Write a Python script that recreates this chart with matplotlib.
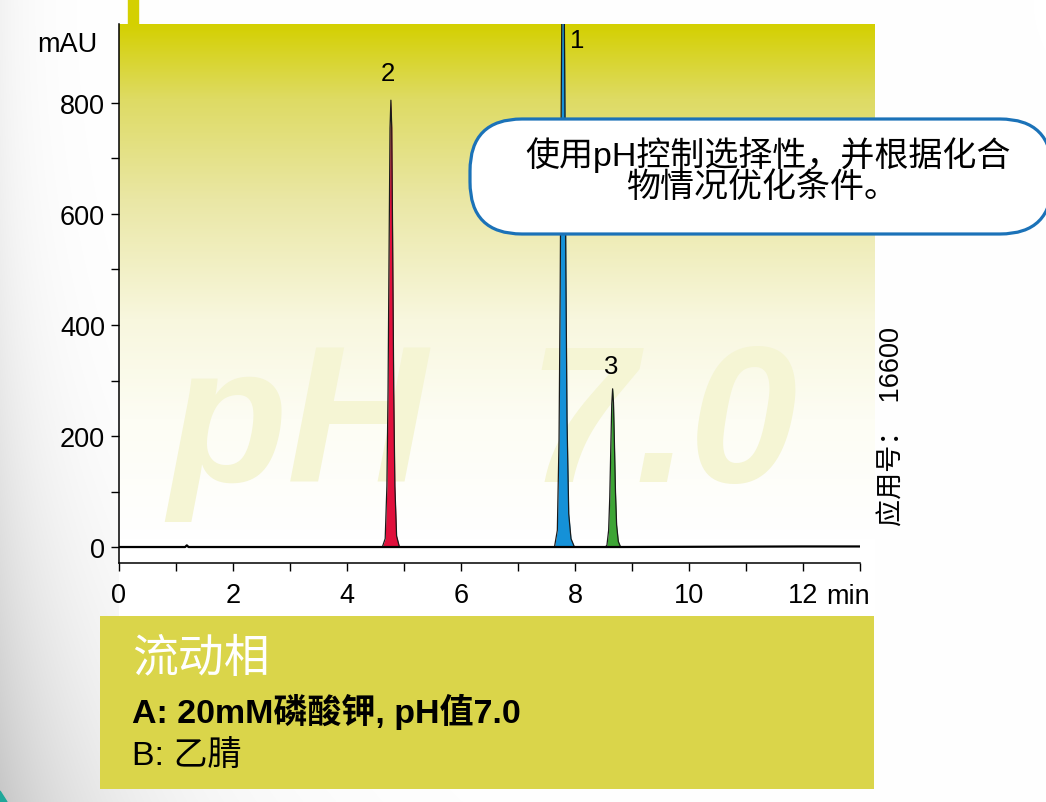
import numpy as np
import matplotlib
matplotlib.use("Agg")
import matplotlib.pyplot as plt
from matplotlib.patches import FancyBboxPatch, Rectangle, Polygon
from matplotlib.transforms import IdentityTransform

# ---------------- data ----------------
peak_names = ["1", "2", "3"]
peak_colors = ["#1591D8", "#E0103C", "#3DA535"]
# peak 1 (clipped at top of chart)
peak1_t = [7.64, 7.69, 7.72, 7.74, 7.76, 7.775, 7.79, 7.805, 7.82, 7.84, 7.86, 7.89, 7.93, 7.99]
peak1_v = [0, 30, 192, 462, 828, 1058, 1150, 1065, 850, 500, 230, 60, 15, 0]
# peak 2
peak2_t = [4.62, 4.67, 4.70, 4.72, 4.74, 4.755, 4.77, 4.785, 4.80, 4.82, 4.84, 4.87, 4.92]
peak2_v = [0, 15, 110, 280, 560, 755, 805, 755, 560, 280, 110, 20, 0]
# peak 3
peak3_t = [8.53, 8.56, 8.59, 8.61, 8.63, 8.645, 8.66, 8.675, 8.69, 8.71, 8.73, 8.76, 8.80]
peak3_v = [0, 3, 30, 90, 188, 257, 285, 260, 195, 100, 40, 10, 0]
# baseline segments between peaks (time, mAU)
base_t = [0.0, 1.16, 1.19, 1.22, 4.62, 4.92, 7.64, 7.99, 8.53, 8.80, 12.0, 13.0]
base_v = [0, 0, 3, 0, 0, 0, 0, 0, 0, 0, 1, 1]

y_ticks = [0, 200, 400, 600, 800]
x_ticks = [0, 2, 4, 6, 8, 10, 12]

callout_lines = ["使用pH控制选择性，并根据化合", "物情况优化条件。"]
app_text = "应用号：  16600"
mobile_title = "流动相"
mobile_a = "A: 20mM磷酸钾, pH值7.0"
mobile_b = "B: 乙腈"
watermark_parts = ["pH", "7.0"]

# ---------------- figure ----------------
W, H = 1046, 803
fig = plt.figure(figsize=(W / 100, H / 100), dpi=100)
fams = ["Liberation Sans", "Noto Sans CJK SC", "DejaVu Sans"]
plt.rcParams["font.family"] = fams


def fx(x):
    return x / W


def fy(y):
    return 1 - y / H


# page background (grey wash on the left)
bgall = fig.add_axes([0, 0, 1, 1], zorder=-10)
bgall.set_axis_off()
yy, xx = np.mgrid[0:H, 0:W]
yn = yy / H
a = 0.05 + 0.17 * yn ** 2
w = 30 + 85 * yn ** 2
g = 1 - a * np.exp(-xx / w)
img = np.dstack([g, g, g])
bgall.imshow(img, extent=[0, W, H, 0], aspect="auto", interpolation="bilinear")
bgall.set_xlim(0, W)
bgall.set_ylim(H, 0)
bgall.add_patch(Polygon([[0, 792], [7, 803], [0, 803]], closed=True, color="#1FA89A"))
# small tab at top
bgall.add_patch(Rectangle((128, 0), 10, 26, color="#D4D000"))

# yellow gradient panel
bg = fig.add_axes([fx(119), fy(617), fx(875 - 119), (617 - 25) / H], zorder=-5)
bg.set_axis_off()
stops_y = np.array([25, 100, 200, 320, 420, 540, 617])
stops_c = np.array([[212, 208, 0], [222, 219, 100], [234, 231, 165], [248, 247, 222],
                    [253, 253, 244], [255, 255, 255], [255, 255, 255]]) / 255.0
ys = np.arange(25, 617)
col = np.stack([np.interp(ys, stops_y, stops_c[:, k]) for k in range(3)], axis=1)
grad = np.repeat(col[:, None, :], 10, axis=1)
bg.imshow(grad, extent=[0, 1, 0, 1], aspect="auto", interpolation="bilinear")
bg.set_xlim(0, 1)
bg.set_ylim(0, 1)
wm_kw = dict(transform=fig.transFigure, fontsize=140, fontweight="bold", fontstyle="italic",
             color=(245 / 255, 245 / 255, 212 / 255), ha="left", va="baseline",
             family=["Liberation Sans", "DejaVu Sans"])
bg.text(fx(168), fy(482), watermark_parts[0], **wm_kw)
bg.text(fx(527), fy(482), watermark_parts[1], **wm_kw)

# main axes
ax = fig.add_axes([fx(119), fy(564), fx(860 - 119), (564 - 25) / H], zorder=0)
ax.patch.set_visible(False)
ax.set_xlim(0, 13)
ax.set_ylim(-28.8, 942.3)
for s in ["top", "right"]:
    ax.spines[s].set_visible(False)
for s in ["left", "bottom"]:
    ax.spines[s].set_linewidth(1.1)
ax.set_yticks(y_ticks)
ax.set_yticks(np.arange(0, 900, 100), minor=True)
ax.set_xticks(x_ticks)
ax.set_xticks(np.arange(0, 14, 1), minor=True)
ax.tick_params(axis="both", which="both", direction="out", length=6, width=1.0,
               labelsize=19.5, colors="black")
ax.tick_params(axis="x", which="both", pad=8)
ax.tick_params(axis="y", which="both", pad=4)
ax.set_xticklabels([str(v) for v in x_ticks])
fig.text(fx(826), fy(597), "min", fontsize=19.5, ha="left", va="center")
fig.text(fx(97), fy(45), "mAU", fontsize=19.5, ha="right", va="center")

# trace
peaks = [(peak1_t, peak1_v), (peak2_t, peak2_v), (peak3_t, peak3_v)]
for (t, v), c in zip(peaks, peak_colors):
    ax.fill_between(t, 0, v, color=c, zorder=2, linewidth=0)
    ax.plot(t, v, color="#1a1a1a", lw=0.9, zorder=3)
ax.plot(base_t, base_v, color="black", lw=1.6, zorder=3)

# peak labels
ax.annotate(peak_names[1], (peak2_t[6], peak2_v[6]), xytext=(-2, 11), textcoords="offset points",
            ha="center", va="bottom", fontsize=18.5)
ax.annotate(peak_names[2], (peak3_t[6], peak3_v[6]), xytext=(-1, 8), textcoords="offset points",
            ha="center", va="bottom", fontsize=18.5)
ax.annotate(peak_names[0], (peak1_t[6], 942.3), xytext=(10, -3), textcoords="offset points",
            ha="center", va="top", fontsize=18.5, annotation_clip=False)

# callout box
idt = IdentityTransform()
box = FancyBboxPatch((470, H - 235), 582, 115, boxstyle="round,pad=0,rounding_size=52",
                     transform=idt, facecolor="white", edgecolor="#1B72B8", linewidth=2.3,
                     zorder=5)
fig.patches.append(box)
box.set_figure(fig)
fig.text(fx(768), fy(155), callout_lines[0], ha="center", va="center", fontsize=24.5, zorder=6)
fig.text(fx(762), fy(188), callout_lines[1], ha="center", va="center", fontsize=24.5, zorder=6)

# application number
fig.text(fx(893), fy(426), app_text, rotation=90, ha="center", va="center", fontsize=19.5)

# mobile phase box
mb = Rectangle((100, H - 790), 774, 173, transform=idt, facecolor="#DAD54A",
               edgecolor="none", zorder=5)
fig.patches.append(mb)
mb.set_figure(fig)
fig.text(fx(132), fy(660), mobile_title, ha="left", va="center", fontsize=33, color="white",
         zorder=6)
fig.text(fx(132), fy(712), mobile_a, ha="left", va="center", fontsize=24.5, fontweight="bold",
         zorder=6)
fig.text(fx(132), fy(756), mobile_b, ha="left", va="center", fontsize=24.5, zorder=6)

fig.savefig("out.png", dpi=100)
